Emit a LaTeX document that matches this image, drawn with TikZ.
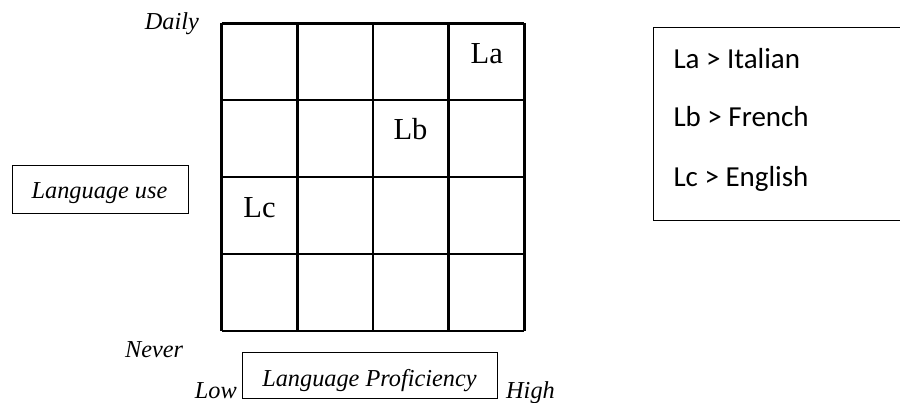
\documentclass[tikz,border=0pt]{standalone}
\usepackage{fontspec}
\setmainfont{Liberation Serif}
\newfontfamily\legendfont{Carlito}
\usetikzlibrary{positioning}

\tikzset{
  axislabel/.style={font=\fontsize{24.3}{27}\selectfont\itshape, inner sep=0pt},
  celllabel/.style={font=\fontsize{30.5}{34}\selectfont, inner sep=0pt, anchor=base},
  keybox/.style={draw, line width=0.9pt, inner sep=0pt},
  keyentry/.style={font=\fontsize{29}{32}\legendfont, inner sep=0pt, anchor=base west}
}

\begin{document}
\begin{tikzpicture}[x=1pt,y=-1pt]
\useasboundingbox (0,0) rectangle (900,403);
\foreach \i in {0,...,4} {
  \draw[line width=2.6pt] (221.7+75.65*\i,23.3) -- (221.7+75.65*\i,331);
  \draw[line width=2.6pt] (221.7,23.3+76.9*\i) -- (524.3,23.3+76.9*\i);
}
\node[celllabel] (la) at (486.7,64) {La};
\node[celllabel] (lb) at (410.5,140) {Lb};
\node[celllabel] (lc) at (259.5,218) {Lc};

\node[axislabel, anchor=base east] (daily) at (199,29.3) {Daily};
\node[axislabel, anchor=base east] (never) at (183.3,357.7) {Never};
\node[axislabel, anchor=base east] (low) at (237,398.3) {Low};
\node[axislabel, anchor=base west] (high) at (506,398.3) {High};

\node[keybox, minimum width=176pt, minimum height=47.6pt] (usebox) at (100.7,189.5) {};
\node[axislabel, anchor=base] (usetext) at (99.5,199) {Language use};
\node[keybox, minimum width=255pt, minimum height=46pt] (profbox) at (370.2,375.3) {};
\node[axislabel, anchor=base] (proftext) at (369.5,386) {Language Proficiency};

\draw[line width=0.9pt] (900,27.3) -- (653,27.3) -- (653,220) -- (900,220);
\node[keyentry] (ita) at (673.3,68.5) {La > Italian};
\node[keyentry] (fre) at (673.3,126.5) {Lb > French};
\node[keyentry] (eng) at (673.3,186.5) {Lc > English};
\end{tikzpicture}
\end{document}
